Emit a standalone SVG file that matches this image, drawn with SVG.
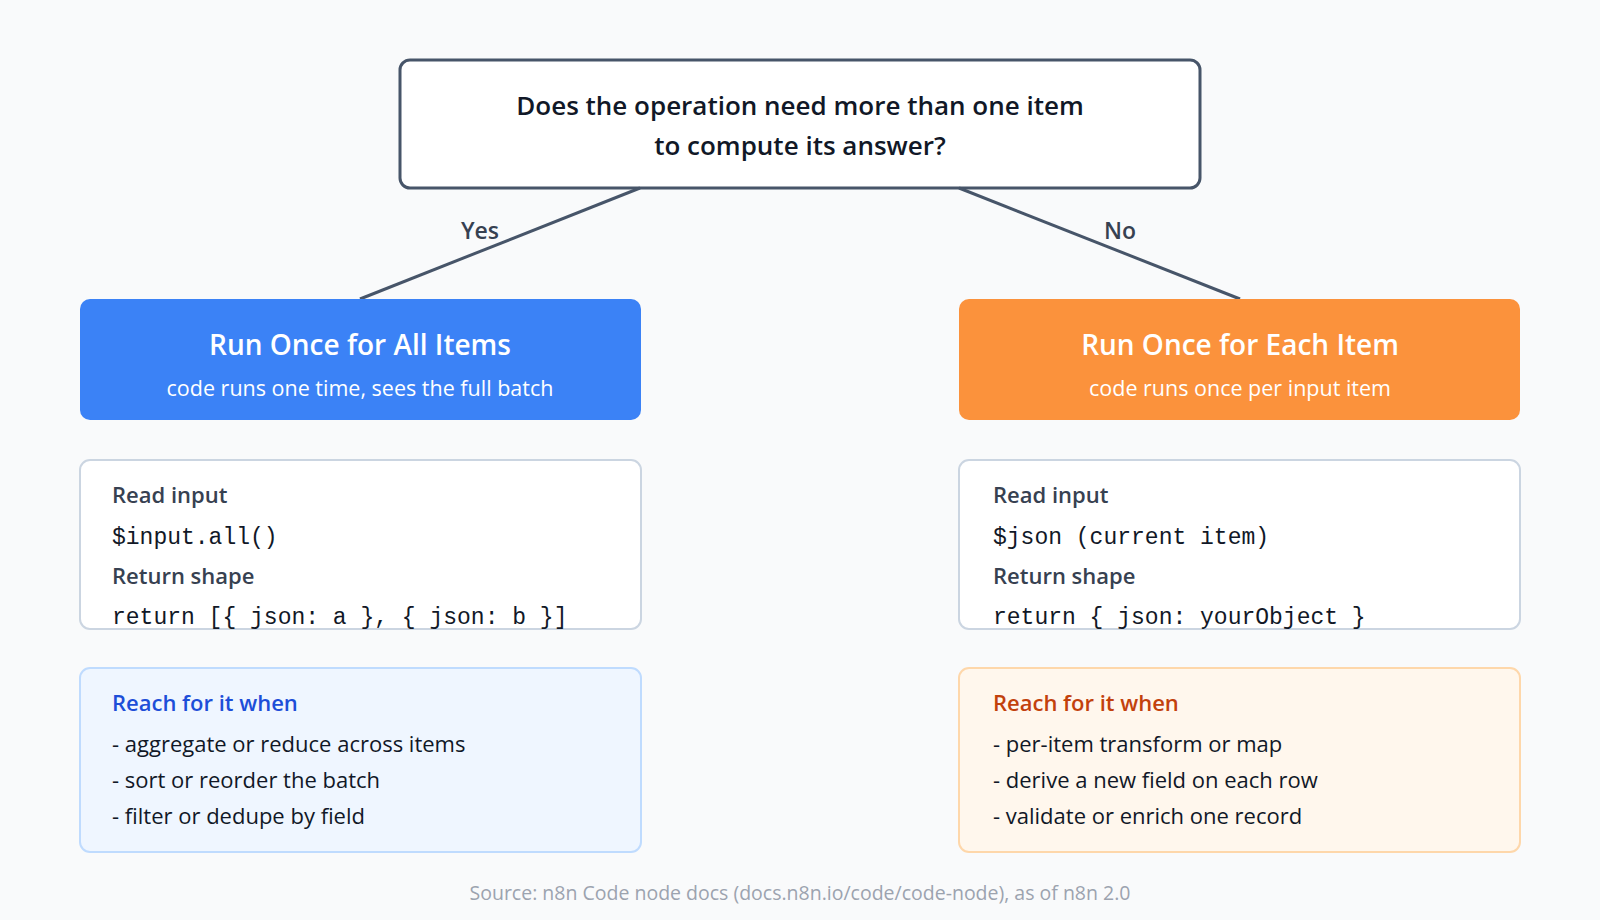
<svg xmlns="http://www.w3.org/2000/svg" width="1600" height="920" viewBox="0 0 1600 920">
<style>
text{font-family:"Open Sans","Noto Sans",sans-serif}
.q{font-size:26px;font-weight:600;fill:#111827}
.lbl{font-size:23px;font-weight:600;fill:#374151}
.t{font-size:28px;font-weight:600;fill:#fff}
.s{font-size:21.5px;fill:#fff}
.h{font-size:22px;font-weight:600;fill:#374151}
.c{font-family:"Liberation Mono",monospace;font-size:23px;fill:#111827}
.b{font-size:22px;fill:#111827}
.card{fill:#fff;stroke:#cbd5e1;stroke-width:2}
</style>
<rect width="1600" height="920" fill="#f9fafb"/>
<g id="question">
<rect x="400" y="60" width="800" height="128" rx="10" fill="#fff" stroke="#475569" stroke-width="3"/>
<text class="q" x="800" y="115" text-anchor="middle">Does the operation need more than one item</text>
<text class="q" x="800" y="155" text-anchor="middle">to compute its answer?</text>
</g>
<g id="connectors" stroke="#475569" stroke-width="3" fill="none">
<line x1="640" y1="188" x2="360" y2="299"/>
<line x1="959" y1="188" x2="1240" y2="299"/>
</g>
<text class="lbl" x="480" y="239" text-anchor="middle">Yes</text>
<text class="lbl" x="1120" y="239" text-anchor="middle">No</text>
<g id="all-items">
<rect x="80" y="299" width="561" height="121" rx="10" fill="#3b82f6"/>
<text class="t" x="360" y="355" text-anchor="middle">Run Once for All Items</text>
<text class="s" x="360" y="396" text-anchor="middle">code runs one time, sees the full batch</text>
</g>
<g id="each-item">
<rect x="959" y="299" width="561" height="121" rx="10" fill="#fb923c"/>
<text class="t" x="1240" y="355" text-anchor="middle">Run Once for Each Item</text>
<text class="s" x="1240" y="396" text-anchor="middle">code runs once per input item</text>
</g>
<g id="all-code">
<rect class="card" x="80" y="460" width="561" height="169" rx="10"/>
<text class="h" x="112" y="503">Read input</text>
<text class="c" x="112" y="544">$input.all()</text>
<text class="h" x="112" y="584">Return shape</text>
<text class="c" x="112" y="624">return [{ json: a }, { json: b }]</text>
</g>
<g id="each-code">
<rect class="card" x="959" y="460" width="561" height="169" rx="10"/>
<text class="h" x="993" y="503">Read input</text>
<text class="c" x="993" y="544">$json (current item)</text>
<text class="h" x="993" y="584">Return shape</text>
<text class="c" x="993" y="624">return { json: yourObject }</text>
</g>
<g id="all-when">
<rect x="80" y="668" width="561" height="184" rx="10" fill="#eff6ff" stroke="#bfdbfe" stroke-width="2"/>
<text class="h" x="112" y="711" style="fill:#1d4ed8">Reach for it when</text>
<text class="b" x="112" y="752">- aggregate or reduce across items</text>
<text class="b" x="112" y="788">- sort or reorder the batch</text>
<text class="b" x="112" y="824">- filter or dedupe by field</text>
</g>
<g id="each-when">
<rect x="959" y="668" width="561" height="184" rx="10" fill="#fff7ed" stroke="#fed7aa" stroke-width="2"/>
<text class="h" x="993" y="711" style="fill:#c2410c">Reach for it when</text>
<text class="b" x="993" y="752">- per-item transform or map</text>
<text class="b" x="993" y="788">- derive a new field on each row</text>
<text class="b" x="993" y="824">- validate or enrich one record</text>
</g>
<text x="800" y="900" text-anchor="middle" style="font-size:19.5px;fill:#9ca3af">Source: n8n Code node docs (docs.n8n.io/code/code-node), as of n8n 2.0</text>
</svg>
